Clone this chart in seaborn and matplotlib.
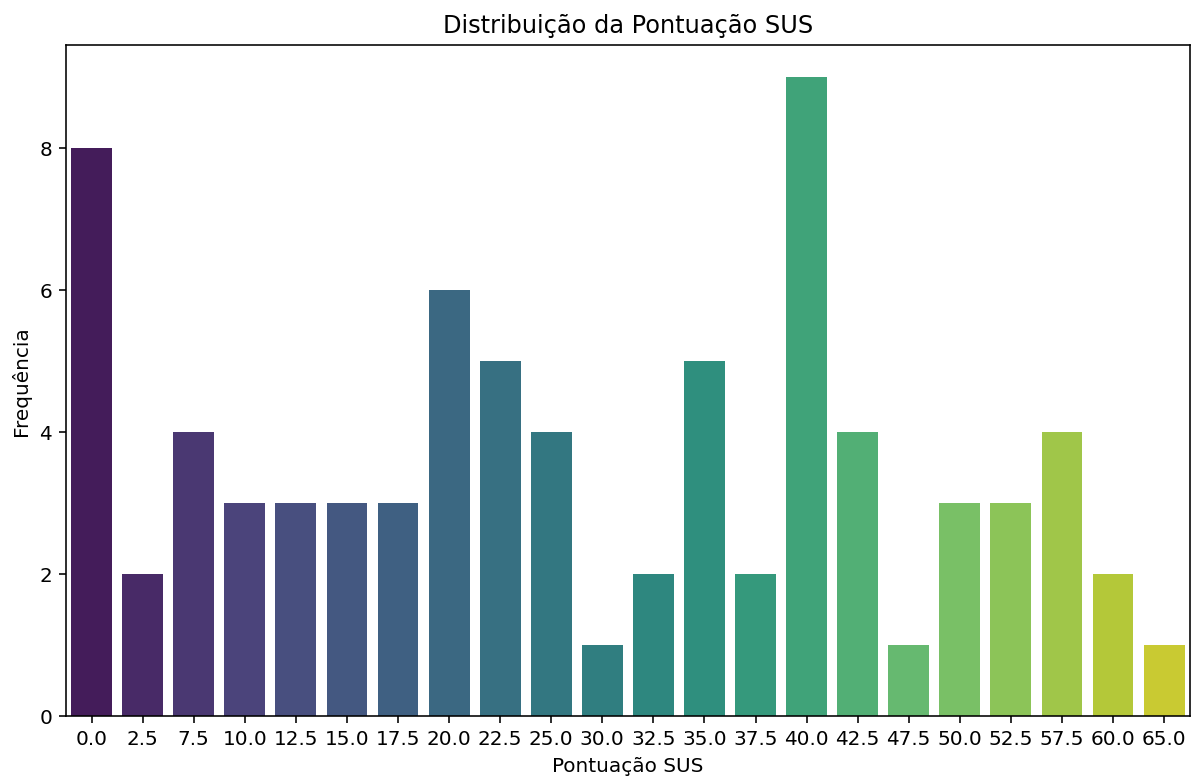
import matplotlib
matplotlib.use("Agg")
import matplotlib.pyplot as plt
import seaborn as sns
import pandas as pd

scores = ["0.0", "2.5", "7.5", "10.0", "12.5", "15.0", "17.5", "20.0", "22.5", "25.0", "30.0",
          "32.5", "35.0", "37.5", "40.0", "42.5", "47.5", "50.0", "52.5", "57.5", "60.0", "65.0"]
counts = [8, 2, 4, 3, 3, 3, 3, 6, 5, 4, 1, 2, 5, 2, 9, 4, 1, 3, 3, 4, 2, 1]

df = pd.DataFrame({"score": scores, "count": counts})

fig = plt.figure(figsize=(1192 / 144, 780 / 144), dpi=144)
ax = fig.add_axes([0.0554, 0.082, 0.9426, 0.860])
sns.barplot(data=df, x="score", y="count", hue="score", palette="viridis",
            legend=False, ax=ax, order=scores, hue_order=scores)
ax.set_title("Distribuição da Pontuação SUS")
ax.set_xlabel("Pontuação SUS")
ax.set_ylabel("Frequência")
fig.savefig("out.png", dpi=144)
